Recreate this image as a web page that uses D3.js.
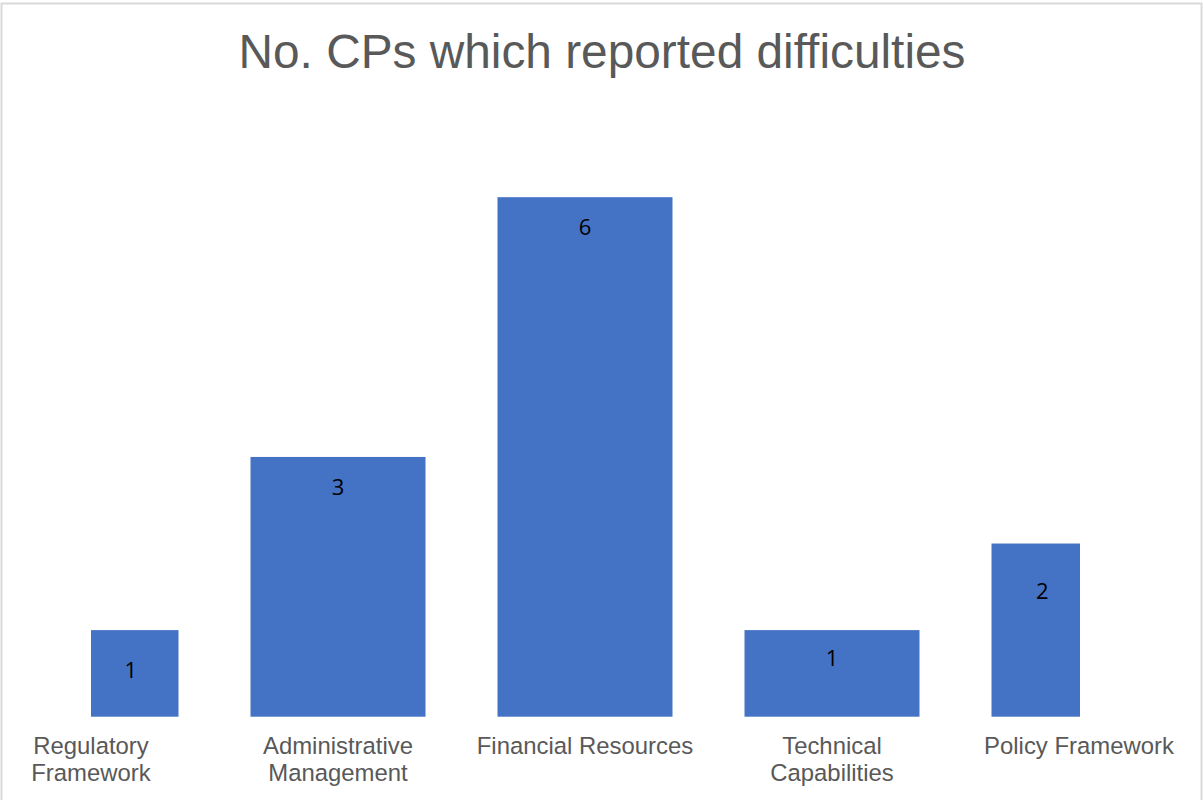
<!DOCTYPE html>
<html><head><meta charset="utf-8">
<script src="https://cdn.jsdelivr.net/npm/d3@7"></script>
<style>html,body{margin:0;padding:0;background:#fff;overflow:hidden}</style>
</head><body>
<script>
const categories = ["Regulatory Framework", "Administrative Management", "Financial Resources", "Technical Capabilities", "Policy Framework"];
const categoryLines = [["Regulatory", "Framework"], ["Administrative", "Management"], ["Financial Resources"], ["Technical", "Capabilities"], ["Policy Framework"]];
const values = [1, 3, 6, 1, 2];
const title = "No. CPs which reported difficulties";

const W = 1203, H = 800;
const svg = d3.select("body").append("svg").attr("width", W).attr("height", H);

svg.append("rect").attr("x", 1.5).attr("y", 3.5).attr("width", 1200).attr("height", 810)
  .attr("fill", "#fff").attr("stroke", "#d9d9d9").attr("stroke-width", 2);

const plotL = 91, plotR = 1079, plotTop = 110.6, plotBottom = 716.7;
const x = d3.scalePoint().domain(categories).range([plotL, plotR]);
const y = d3.scaleLinear().domain([0, 7]).range([plotBottom, plotTop]);
const barW = 175;

svg.append("defs").append("clipPath").attr("id", "plot")
  .append("rect").attr("x", plotL).attr("y", 0).attr("width", plotR - plotL + 1).attr("height", H);

svg.append("text").attr("x", 602).attr("y", 67.5).attr("text-anchor", "middle")
  .attr("font-family", "Liberation Sans, Arial, sans-serif").attr("font-size", 47.8)
  .attr("fill", "#595959").text(title);

const g = svg.append("g").attr("clip-path", "url(#plot)");
g.selectAll("rect.bar").data(values).join("rect").attr("class", "bar")
  .attr("x", (d, i) => x(categories[i]) - barW / 2)
  .attr("y", d => y(d))
  .attr("width", barW)
  .attr("height", d => plotBottom - y(d))
  .attr("fill", "#4472c4");

const labelDy = [40, 30, 30, 28, 47];
svg.selectAll("text.val").data(values).join("text").attr("class", "val")
  .attr("x", (d, i) => {
    const l = Math.max(plotL, x(categories[i]) - barW / 2), r = Math.min(plotR, x(categories[i]) + barW / 2);
    return (l + r) / 2 - (i === 0 ? 4 : i === 4 ? -7 : 0);
  })
  .attr("y", (d, i) => y(d) + labelDy[i] + 8)
  .attr("text-anchor", "middle")
  .attr("font-family", "Open Sans, Noto Sans, sans-serif").attr("font-size", 22)
  .attr("fill", "#000").text(d => d);

const lab = svg.selectAll("text.cat").data(categories).join("text").attr("class", "cat")
  .attr("text-anchor", "middle")
  .attr("font-family", "Liberation Sans, Arial, sans-serif").attr("font-size", 23.9)
  .attr("fill", "#595959");
lab.each(function(c, i) {
  const t = d3.select(this);
  categoryLines[i].forEach((ln, k) => {
    t.append("tspan").attr("x", x(c)).attr("y", 754 + k * 26.5).text(ln);
  });
});
</script>
</body></html>
